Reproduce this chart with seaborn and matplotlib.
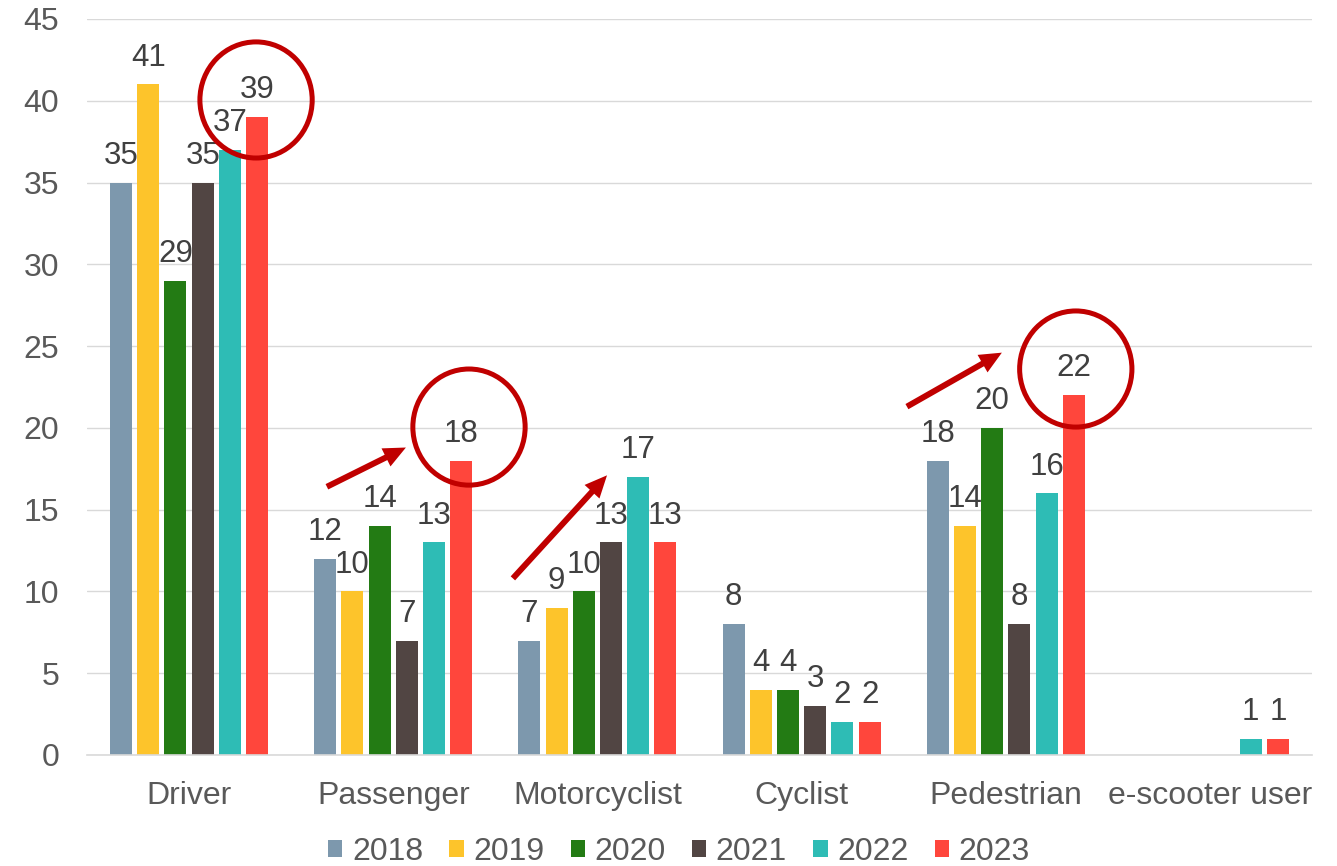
import pandas as pd
import matplotlib.pyplot as plt
import seaborn as sns
from matplotlib.patches import Ellipse

roles = ["Driver", "Passenger", "Motorcyclist", "Cyclist", "Pedestrian", "e-scooter user"]
years = ["2018", "2019", "2020", "2021", "2022", "2023"]
v2018 = [35, 12, 7, 8, 18, 0]
v2019 = [41, 10, 9, 4, 14, 0]
v2020 = [29, 14, 10, 4, 20, 0]
v2021 = [35, 7, 13, 3, 8, 0]
v2022 = [37, 13, 17, 2, 16, 1]
v2023 = [39, 18, 13, 2, 22, 1]
colors = ["#7D98AD", "#FDC42B", "#237B14", "#514543", "#2EBCB5", "#FF463C"]

# highlight overlays (data coords): circles round the 2023 labels, arrows showing the rise
circles = [(0.328, 40.05), (1.371, 20.05), (4.343, 23.6)]
arrows = [((0.675, 16.4), (1.062, 18.8)),
          ((1.586, 10.8), (2.047, 17.1)),
          ((3.516, 21.3), (3.981, 24.6))]

rows = []
for year, vals in zip(years, [v2018, v2019, v2020, v2021, v2022, v2023]):
    for role, v in zip(roles, vals):
        rows.append({"role": role, "year": year, "count": v})
df = pd.DataFrame(rows)

sns.set_style("white")
plt.rcParams["font.family"] = ["Liberation Sans", "DejaVu Sans"]

fig = plt.figure(figsize=(13.37, 8.66), dpi=100)
ax = fig.add_axes([87 / 1337, 1 - 755 / 866, 1225 / 1337, 736 / 866])

sns.barplot(data=df, x="role", y="count", hue="year", order=roles, hue_order=years,
            palette=colors, saturation=1, width=0.8, gap=0.19, linewidth=0, ax=ax)

for container in ax.containers:
    labels = [f"{v:g}" if v > 0 else "" for v in container.datavalues]
    ax.bar_label(container, labels=labels, padding=8.5, fontsize=22.5, color="#404040")

ax.set_ylim(0, 45)
ax.set_yticks(range(0, 46, 5))
ax.set_xlabel("")
ax.set_ylabel("")
ax.yaxis.grid(True, color="#D9D9D9", lw=1)
ax.set_axisbelow(True)
for s in ["left", "top", "right"]:
    ax.spines[s].set_visible(False)
ax.spines["bottom"].set_color("#D9D9D9")
ax.spines["bottom"].set_linewidth(1.2)
ax.tick_params(axis="y", length=0, pad=20, labelsize=23, labelcolor="#595959")
ax.tick_params(axis="x", length=0, pad=18.5, labelsize=23, labelcolor="#595959")

for cx, cy in circles:
    ax.add_patch(Ellipse((cx, cy), 0.55, 7.1, fill=False, edgecolor="#C00000",
                         lw=3.6, clip_on=False, zorder=5))
for tail, tip in arrows:
    ax.annotate("", xy=tip, xytext=tail,
                arrowprops=dict(arrowstyle="simple,head_length=1.6,head_width=1.45,tail_width=0.43",
                                color="#C00000", mutation_scale=10, shrinkA=0, shrinkB=0, lw=0))

handles, labels = ax.get_legend_handles_labels()
ax.get_legend().remove()
fig.legend(handles, labels, loc="center", bbox_to_anchor=(679 / 1337, 14 / 866), ncol=6,
           frameon=False, fontsize=23, handlelength=0.45, handleheight=0.45,
           handletextpad=0.3, columnspacing=0.82, labelcolor="#595959",
           borderpad=0, borderaxespad=0)

fig.savefig("out.png", dpi=100)
